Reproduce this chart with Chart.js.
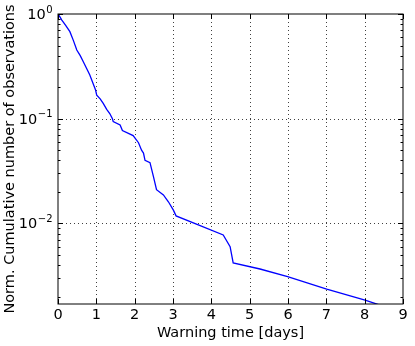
<!DOCTYPE html>
<html><head><meta charset="utf-8">
<script src="https://cdn.jsdelivr.net/npm/chart.js@4/dist/chart.umd.min.js"></script>
<style>html,body{margin:0;padding:0;background:#fff}</style>
</head><body>
<canvas id="c" width="415" height="346"></canvas>
<script>
// Data
const warningDays = [0, 0.05, 0.10, 0.20, 0.31, 0.40, 0.49, 0.58, 0.66, 0.75, 0.83, 0.92, 0.98, 1.01, 1.10, 1.18, 1.27, 1.35, 1.42, 1.44, 1.62, 1.68, 1.96, 2.10, 2.18, 2.23, 2.27, 2.40, 2.49, 2.57, 2.75, 2.88, 3.01, 3.08, 3.66, 4.31, 4.49, 4.57, 5.27, 5.99, 7.01, 8.01, 8.40];
const normCumObs  = [1.0, 0.94, 0.876, 0.78, 0.678, 0.56, 0.453, 0.40, 0.350, 0.30, 0.261, 0.215, 0.188, 0.168, 0.155, 0.140, 0.123, 0.112, 0.100, 0.094, 0.087, 0.077, 0.069, 0.059, 0.050, 0.047, 0.040, 0.038, 0.028, 0.021, 0.0187, 0.0161, 0.0134, 0.0118, 0.0097, 0.00775, 0.0060, 0.0042, 0.00367, 0.0031, 0.00236, 0.00185, 0.00166];
const xTickValues = [0, 1, 2, 3, 4, 5, 6, 7, 8, 9];
const yMajorValues = [1, 0.1, 0.01];
const yMajorExponents = ['0', '\u22121', '\u22122'];
const xLabel = 'Warning time [days]';
const yLabel = 'Norm. Cumulative number of observations';

const FONT = "'DejaVu Sans'";
const FS = 14.5;

const framePlugin = {
  id: 'frame',
  beforeDatasetsDraw(chart) {
    const {ctx, chartArea: a, scales: {x, y}} = chart;
    ctx.save();
    ctx.strokeStyle = 'rgba(0,0,0,0.75)';
    ctx.lineWidth = 1;
    ctx.setLineDash([1, 3]);
    xTickValues.forEach(v => {
      if (v <= x.min || v >= x.max) return;
      const px = Math.round(x.getPixelForValue(v)) + 0.5;
      ctx.beginPath(); ctx.moveTo(px, a.top); ctx.lineTo(px, a.bottom); ctx.stroke();
    });
    yMajorValues.forEach(v => {
      if (v <= y.min || v >= y.max) return;
      const py = Math.round(y.getPixelForValue(v)) + 0.5;
      ctx.beginPath(); ctx.moveTo(a.left, py); ctx.lineTo(a.right, py); ctx.stroke();
    });
    ctx.restore();
  },
  afterDatasetsDraw(chart) {
    const {ctx, chartArea: a, scales: {x, y}} = chart;
    ctx.save();
    ctx.strokeStyle = '#000';
    ctx.lineWidth = 1;
    ctx.setLineDash([]);
    ctx.strokeRect(a.left, a.top, a.right - a.left, a.bottom - a.top);
    xTickValues.forEach(v => {
      const px = Math.round(x.getPixelForValue(v)) + 0.5;
      ctx.beginPath();
      ctx.moveTo(px, a.bottom); ctx.lineTo(px, a.bottom - 5);
      ctx.moveTo(px, a.top); ctx.lineTo(px, a.top + 5);
      ctx.stroke();
    });
    for (let e = -3; e <= 0; e++) {
      for (let m = 1; m <= 9; m++) {
        const v = m * Math.pow(10, e);
        if (v < y.min - 1e-12 || v > y.max + 1e-12) continue;
        const len = m === 1 ? 5 : 2.5;
        const py = Math.round(y.getPixelForValue(v)) + 0.5;
        ctx.beginPath();
        ctx.moveTo(a.left, py); ctx.lineTo(a.left + len, py);
        ctx.moveTo(a.right, py); ctx.lineTo(a.right - len, py);
        ctx.stroke();
      }
    }
    ctx.fillStyle = '#000';
    ctx.textBaseline = 'alphabetic';
    yMajorValues.forEach((v, i) => {
      const py = y.getPixelForValue(v);
      const ex = yMajorExponents[i];
      ctx.font = '10px ' + FONT;
      const ew = ctx.measureText(ex).width;
      const rightEdge = 52.5;
      ctx.textAlign = 'left';
      ctx.fillText(ex, rightEdge - ew, py - 1.5);
      ctx.font = FS + 'px ' + FONT;
      ctx.textAlign = 'right';
      ctx.fillText('10', rightEdge - ew - 0.5, py + 5);
    });
    ctx.restore();
  }
};

new Chart(document.getElementById('c'), {
  type: 'line',
  data: {
    datasets: [{
      data: warningDays.map((d, i) => ({x: d, y: normCumObs[i]})),
      borderColor: '#0000ff',
      borderWidth: 1.3,
      pointRadius: 0,
      tension: 0,
      fill: false
    }]
  },
  options: {
    responsive: false,
    animation: false,
    events: [],
    layout: {padding: {top: 14, right: 12, left: 0, bottom: 0}},
    plugins: {legend: {display: false}, tooltip: {enabled: false}},
    scales: {
      x: {
        type: 'linear', min: 0, max: 9,
        afterBuildTicks: s => { s.ticks = xTickValues.map(v => ({value: v})); },
        afterFit: s => { s.height = 42; },
        ticks: {color: '#000', font: {family: FONT, size: FS}, padding: 3, maxRotation: 0, autoSkip: false},
        grid: {display: false, drawTicks: false},
        border: {display: false},
        title: {display: true, text: xLabel, color: '#000', font: {family: FONT, size: FS}, padding: {top: 0, bottom: 4}}
      },
      y: {
        type: 'logarithmic', min: 0.0017, max: 1,
        afterFit: s => { s.width = 58; },
        ticks: {display: false},
        grid: {display: false, drawTicks: false},
        border: {display: false},
        title: {display: true, text: yLabel, color: '#000', font: {family: FONT, size: FS}, padding: {top: 2, bottom: 0}}
      }
    }
  },
  plugins: [framePlugin]
});
</script>
</body></html>
